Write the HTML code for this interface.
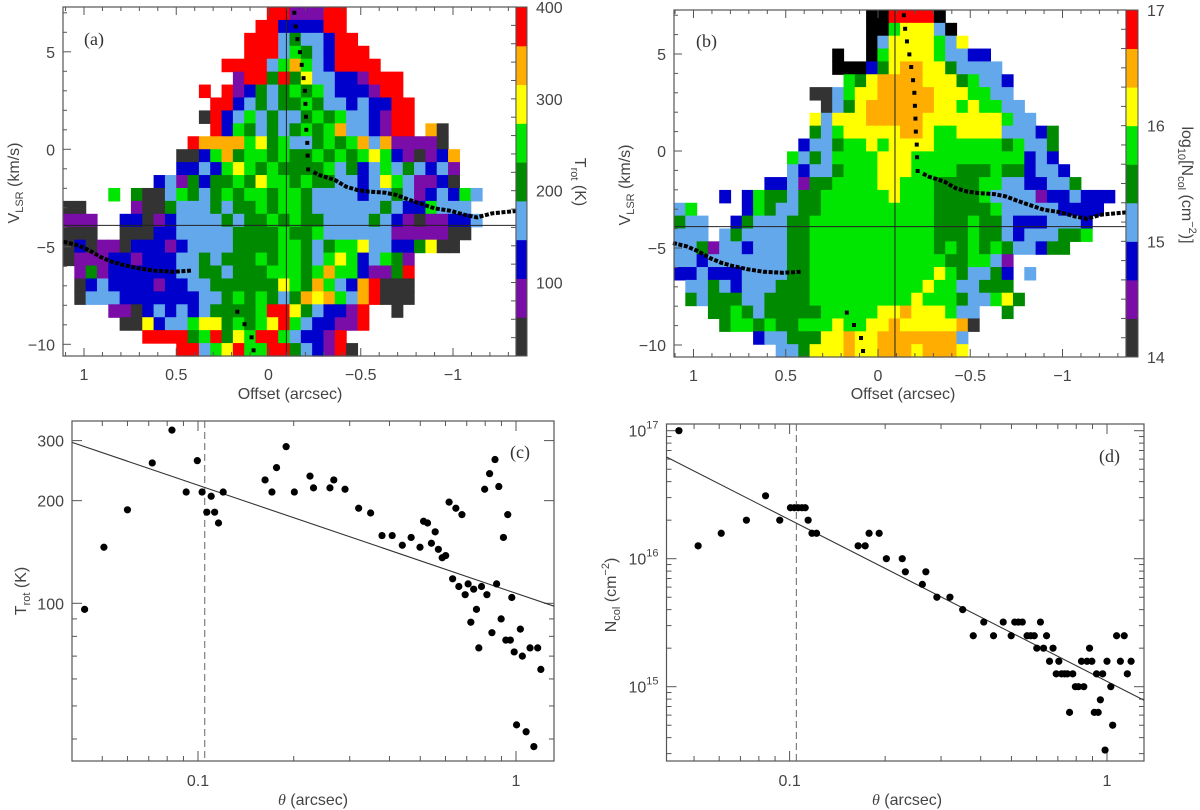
<!DOCTYPE html>
<html><head><meta charset="utf-8"><style>
html,body{margin:0;padding:0;background:#fff;}
svg{display:block;font-family:"Liberation Sans",sans-serif;}
</style></head><body>
<svg id="fig" width="1200" height="810" viewBox="0 0 1200 810" xmlns="http://www.w3.org/2000/svg">
<rect x="0" y="0" width="1200" height="810" fill="#fff"/>
</svg>
<script>
// ---------- DATA ----------
const heatA = [
"..................RRPPPRR",
".................RRBBBBRR",
"................RRRLDLLBRR",
"................RRRLGDLBRRR",
"..............RRRRLGOGLBRRRR",
"...............PRRDRDYLLBBPRRR",
"............R.RPBDLDGDGLBBBPRR",
".............RRBLDLDDGDLLBLBBRR",
"............KRBLGLDLLDGDGLLBPRR",
".............RBGDLDLDGDGOLLBPRR.OK",
"...........ROOOOGYDGLLDGDGOLOPPPPK",
"..........KKBGODGGDGDDGDGDGYGBPKPBO",
"..........BBLBGYGDGDDDDGLDBLGLDLBLP",
"........BLPDBDDGDYGGDGDDLLBLYGLPPBK",
"....G.DKKLGDLDGDGGDGGDLLLLBLLDLPBLBGL",
"KK....PKKDLLLDLDDGDGGDLLLLLLDLBBGLLL",
"PPP..BBKPBLLLLDLDDGDGDDLLLLDLBPKPPBBL",
"KKK..KKKBBLLLLLDDDDGDDGLLLLLLPPPPPKK",
"KBKPPKBBBPBLLLLDDDDGGDLDGGYLLBBDYKK",
"KPPPBBPBBBLLDLDDDGDGGDLGYGBLGDP",
".PDPBBBBBBLLDDLDDDGGGDGOGGBPPDR",
".KBLBBBBPBBLLDDDDDDYGDOGLBORKKK",
".KLLLBBBBBBBLLDGDGDLDOYOGLORKKK",
"....PPKBLBLBLDDDDGRRYDLBBPR..K",
".....KKYBLLGYYDGDGYRGLBBPPR",
".......RRRRDGRDYGRRGLBBPR",
"..........RRLGYRGGRRDLBPRK"
];
const heatB = [
".................KKRRRRK",
".................KKGYYYLK",
".................KLYYYYGLY",
"..............K..KGYYYYGLLBB",
"..............KKKBDYOOYYDLLLL",
"...............GDYOOOOYYYDGLLB",
"............KKLGYYOOOOOYYYGGLL",
".............KLDYOOOOOOYYGYGGLL",
"............YLYYYOOOOOYYYYYYYGLL",
"............DLGYYYYYOOYGGYYYYLLLBD",
"...........BLLDGGYGYYYYGGGGGGDGLLD",
"..........GLDLGGGGYYYGGGGGGGGGGBLB",
"..........LBLLDGGGYYYGGGGDDDGDDBLLB",
"........BBLPDDGGGGYYGGGDDDDGGLLBBLLD",
"....B.BGDDLDDGGGGGGYGGGDDDDGLLLLPBBLBBB",
"LG....BGDLLDDGGGGGGGGGGDDDDDGLLLLLBBBB",
"DLL..BDLLLDDGGGGGGGGGGGDDDGDDLBBBLLLB",
"LLL.LDLLLLDDGGGGGGGGGGGDDDGDDLBLLLDDG",
"LLDPLLBLLLDDGGGGGGGGGGGDGDGDGDLLBDD",
"LLBLLLLLLLDDGGGGGGGGGGGGDDGGLP",
"BBLBBBLLLLDDGGGGGGGGGGGYGDLLDB.L",
".LLDLBLLLDDDGGGGGGGGGGYGGLLDDD",
".DLDDDLLDDDDGGGGGGGGGYGGGDLLGYD",
"...DDGDLDDDDDGGGGGYYOYYYGLL..D",
"....DGGDGDDGGGYGGYYOYYYYYOK",
".......BLLDDDYYOYYOOOOOOOL",
".........LLDYYYOYYOOOYOOOY"
];
const colorCodes = ["K","P","B","L","D","G","Y","O","R"];
const colorHex = ["#333333","#7a0ca8","#0000cc","#64a8ec","#008a00","#00e600","#ffff00","#ffad00","#ff0000"];
const cbarTickA = [100,200,300,400];
const cbarTickB = [14,15,16,17];
// ridge markers (offset arcsec, V km/s)
const ridgeTopOff = [-0.14,-0.147,-0.157,-0.17,-0.18,-0.19,-0.197,-0.2,-0.203,-0.205,-0.21,-0.212,-0.215];
const ridgeTopV   = [7.0,6.3,5.65,4.98,4.33,3.65,3.0,2.33,1.67,1.0,0.33,-0.32,-1.03];
const ridgeRightOff = [-0.244,-0.275,-0.358,-0.421,-0.483,-0.546,-0.629,-0.692,-0.754,-0.817,-0.9,-0.984,-1.067,-1.13,-1.213,-1.349];
const ridgeRightV   = [-1.17,-1.32,-1.57,-1.92,-2.09,-2.17,-2.22,-2.34,-2.56,-2.77,-3.03,-3.15,-3.37,-3.49,-3.28,-3.16];
const ridgeLeftOff = [1.111,1.038,0.976,0.913,0.851,0.788,0.705,0.622,0.517,0.413];
const ridgeLeftV   = [-4.74,-4.91,-5.16,-5.51,-5.76,-5.93,-6.10,-6.22,-6.28,-6.22];
const ridgeBotOff = [0.169,0.13,0.092,0.081];
const ridgeBotV   = [-8.33,-8.97,-9.64,-10.31];
// panel c
const thetaC = [0.044,0.0506,0.060,0.0718,0.0828,0.0918,0.0995,0.103,0.1066,0.110,0.1128,0.116,0.12,0.1625,0.1708,0.1766,0.1893,0.2009,0.225,0.2308,0.26,0.2673,0.29,0.32,0.349,0.379,0.408,0.439,0.468,0.499,0.512,0.527,0.542,0.557,0.570,0.586,0.601,0.616,0.632,0.647,0.661,0.676,0.692,0.707,0.721,0.736,0.751,0.764,0.779,0.797,0.810,0.826,0.840,0.859,0.869,0.883,0.898,0.913,0.929,0.942,0.960,0.970,0.987,1.004,1.032,1.047,1.076,1.107,1.138,1.170,1.197];
const trotC = [96,146,188,258,322,212,262,212,185,206,185,172,212,230,212,250,288,212,236,218,218,230,216,190,184,158,158,148,156,146,174,172,150,162,144,136,138,198,118,190,112,182,106,114,88,110,96,74,112,216,106,240,82,264,114,220,90,156,78,182,78,104,72,44,84,70,42,74,38,74,64];
const fitC = [107,-0.317];
// panel d
const thetaD = [0.0448,0.0515,0.0609,0.0731,0.084,0.0931,0.1006,0.1035,0.1064,0.1094,0.112,0.1144,0.1176,0.1216,0.1644,0.173,0.178,0.1915,0.2018,0.2264,0.2316,0.262,0.2687,0.2911,0.32,0.351,0.379,0.409,0.439,0.471,0.499,0.512,0.526,0.541,0.56,0.575,0.59,0.601,0.617,0.631,0.645,0.659,0.676,0.692,0.705,0.719,0.735,0.75,0.762,0.78,0.795,0.813,0.831,0.845,0.865,0.881,0.896,0.912,0.927,0.938,0.953,0.969,0.986,1.0,1.028,1.042,1.072,1.102,1.133,1.159,1.191];
const ncolD = [1e17,1.26e16,1.58e16,2e16,3.1e16,2e16,2.5e16,2.5e16,2.5e16,2.5e16,2.5e16,2e16,1.58e16,1.58e16,1.26e16,1.26e16,1.58e16,1.58e16,1e16,1e16,7.9e15,6.3e15,7.9e15,5e15,5e15,4e15,2.5e15,3.2e15,2.5e15,3.2e15,2.5e15,3.2e15,3.2e15,3.2e15,2.5e15,2.5e15,2.5e15,2e15,3.2e15,2e15,2.5e15,1.58e15,2e15,1.26e15,1.58e15,1.26e15,1.26e15,1.26e15,6.3e14,1.26e15,1e15,1e15,1.58e15,1e15,1.58e15,2e15,1.58e15,6.3e14,1.26e15,6.3e14,7.9e14,1.26e15,3.2e14,1.58e15,1e15,5e14,2.5e15,1.58e15,2.5e15,1.26e15,1.58e15];
const fitD = [1.1e15,-1.263];
const beamTheta = [0.105];

// ---------- HELPERS ----------
const NS = 'http://www.w3.org/2000/svg';
const svg = document.getElementById('fig');
function mk(tag, attrs, parent){
  const e = document.createElementNS(NS, tag);
  for (const k in attrs) e.setAttribute(k, attrs[k]);
  (parent || svg).appendChild(e);
  return e;
}
function grp(name){
  const g = mk('g', {});
  
  
  return g;
}
const AX = '#555', TXT = '#444';

// ---------- HEATMAP PANELS ----------
function heatPanel(cfg){
  const g = grp(cfg.name);
  const sx = v => cfg.px0 - cfg.kx * v;
  const sy = v => cfg.py0 - cfg.ky * v;
  const cw = (cfg.x1 - cfg.x0) / 40, rh = (cfg.y1 - cfg.y0) / cfg.grid.length;
  cfg.grid.forEach((row, r) => {
    for (let c = 0; c < row.length; c++) {
      const idx = colorCodes.indexOf(row[c]);
      if (idx < 0) continue;
      const cell = mk('rect', {x: cfg.x0 + c*cw, y: cfg.y0 + r*rh, width: cw + 0.6, height: rh + 0.6, fill: (cfg.blackTop && row[c]==='K' && r < 6) ? '#000' : colorHex[idx]}, g);
      
      
    }
  });
  // reference lines
  const hl = mk('line', {x1: cfg.x0, x2: cfg.x1, y1: sy(cfg.vsys), y2: sy(cfg.vsys), stroke: '#222', 'stroke-width': 1}, g);
  
  
  const vl = mk('line', {x1: sx(cfg.off0), x2: sx(cfg.off0), y1: cfg.y0, y2: cfg.y1, stroke: '#222', 'stroke-width': 1}, g);
  
  
  // ridge markers
  [[ridgeRightOff, ridgeRightV, 'ridge-right'], [ridgeLeftOff, ridgeLeftV, 'ridge-left']].forEach(([xs, ys, nm]) => {
    const pts = xs.map((v, i) => sx(v).toFixed(1) + ',' + sy(ys[i]).toFixed(1)).join(' ');
    const pl = mk('polyline', {points: pts, fill: 'none', stroke: '#000', 'stroke-width': 4, 'stroke-dasharray': '4 1.6'}, g);
    
    
  });
  [[ridgeTopOff, ridgeTopV], [ridgeBotOff, ridgeBotV]].forEach(([xs, ys]) => {
    xs.forEach((v, i) => {
      const m = mk('rect', {x: sx(v) - 2, y: sy(ys[i]) - 2, width: 4, height: 4, fill: '#000'}, g);
      
      
    });
  });
  // frame
  const fr = mk('rect', {x: cfg.x0, y: cfg.y0, width: cfg.x1 - cfg.x0, height: cfg.y1 - cfg.y0, fill: 'none', stroke: AX, 'stroke-width': 1.2}, g);
  
  
  // x ticks
  for (let k = -14; k <= 12; k++) {
    const v = k / 10, x = sx(v);
    if (x < cfg.x0 || x > cfg.x1) continue;
    const L = (k % 5 === 0) ? 8 : 4;
    const t1 = mk('line', {x1: x, x2: x, y1: cfg.y1, y2: cfg.y1 - L, stroke: AX}, g);
    
    
    const t2 = mk('line', {x1: x, x2: x, y1: cfg.y0, y2: cfg.y0 + L, stroke: AX}, g);
    
    
    if (k % 5 === 0) {
      const lab = mk('text', {x: x, y: cfg.y1 + 24, 'text-anchor': 'middle', 'font-size': 16, fill: TXT}, g);
      lab.textContent = (v < 0 ? '\u2212' : '') + String(Math.abs(v));
      
      
    }
  }
  // y ticks
  for (let v = -11; v <= 8; v++) {
    const y = sy(v);
    if (y < cfg.y0 || y > cfg.y1) continue;
    const L = (v % 5 === 0) ? 8 : 4;
    const t = mk('line', {x1: cfg.x0, x2: cfg.x0 + L, y1: y, y2: y, stroke: AX}, g);
    
    
    if (v % 5 === 0) {
      const lab = mk('text', {x: cfg.x0 - 8, y: y + 6, 'text-anchor': 'end', 'font-size': 16, fill: TXT}, g);
      lab.textContent = (v < 0 ? '\u2212' : '') + String(Math.abs(v));
      
      
    }
  }
  // colorbar
  const cb = cfg.cbar;
  const n = colorHex.length, bh = (cfg.y1 - cfg.y0) / n;
  for (let i = 0; i < n; i++) {
    const b = mk('rect', {x: cb.x, y: cfg.y1 - (i+1)*bh, width: cb.w, height: bh + 0.5, fill: colorHex[i]}, g);
    
    
  }
  const cf = mk('rect', {x: cb.x, y: cfg.y0, width: cb.w, height: cfg.y1 - cfg.y0, fill: 'none', stroke: AX}, g);
  
  
  const cy = v => cfg.y0 + (cb.max - v) / (cb.max - cb.min) * (cfg.y1 - cfg.y0);
  for (let v = cb.min; v <= cb.max + 1e-9; v += cb.minor) {
    const t = mk('line', {x1: cb.x - 5, x2: cb.x, y1: cy(v), y2: cy(v), stroke: AX}, g);
    
    
  }
  cb.ticks.forEach(v => {
    const lab = mk('text', {x: cb.x + cb.w + 9, y: cy(v) + 6, 'font-size': 16, fill: TXT}, g);
    lab.textContent = String(v);
    
    
  });
  return {g, sx, sy};
}

const pa = heatPanel({name: 'panel-a-trot-pv', grid: heatA, x0: 63, x1: 516, y0: 7, y1: 356, px0: 268.5, kx: 184.5, py0: 149.3, ky: 19.5, vsys: -3.9, off0: -0.097,
  cbar: {x: 516, w: 11, min: 20, max: 400, minor: 20, ticks: cbarTickA}});
const pb = heatPanel({name: 'panel-b-ncol-pv', grid: heatB, x0: 674, x1: 1126, y0: 10, y1: 357, px0: 878, kx: 184.5, py0: 151, ky: 19.4, vsys: -3.9, off0: -0.092, blackTop: true,
  cbar: {x: 1126, w: 12, min: 14, max: 17, minor: 1/6, ticks: cbarTickB}});

// ---------- LOG PANELS ----------
function logPanel(cfg){
  const g = grp(cfg.name);
  const sx = t => cfg.xa + cfg.xk * Math.log10(t);
  const sy = v => cfg.ya - cfg.yk * (Math.log10(v) - cfg.yref);
  const fr = mk('rect', {x: cfg.x0, y: cfg.y0, width: cfg.x1 - cfg.x0, height: cfg.y1 - cfg.y0, fill: 'none', stroke: AX, 'stroke-width': 1.2}, g);
  
  
  // x ticks
  for (let d = -2; d <= 0; d++) for (let m = 1; m <= 9; m++) {
    const x = sx(m * Math.pow(10, d));
    if (x < cfg.x0 || x > cfg.x1) continue;
    const L = m === 1 ? 10 : 5;
    const a = mk('line', {x1: x, x2: x, y1: cfg.y1, y2: cfg.y1 - L, stroke: AX}, g);
    
    
    const b = mk('line', {x1: x, x2: x, y1: cfg.y0, y2: cfg.y0 + L, stroke: AX}, g);
    
    
    if (m === 1) {
      const lab = mk('text', {x: x, y: cfg.y1 + 25, 'text-anchor': 'middle', 'font-size': 16, fill: TXT}, g);
      lab.textContent = d === -1 ? '0.1' : '1';
      
      
    }
  }
  // y ticks
  for (let d = cfg.dmin; d <= cfg.dmax; d++) for (let m = 1; m <= 9; m++) {
    const v = m * Math.pow(10, d), y = sy(v);
    if (y < cfg.y0 - 0.5 || y > cfg.y1) continue;
    const major = cfg.yLabels(v) !== null;
    const L = major ? 10 : 5;
    const a = mk('line', {x1: cfg.x0, x2: cfg.x0 + L, y1: y, y2: y, stroke: AX}, g);
    
    
    const b = mk('line', {x1: cfg.x1, x2: cfg.x1 - L, y1: y, y2: y, stroke: AX}, g);
    
    
    const labTxt = cfg.yLabels(v);
    if (labTxt) {
      const lab = mk('text', {x: cfg.x0 - 8, y: y + 6, 'text-anchor': 'end', 'font-size': 16, fill: TXT}, g);
      if (Array.isArray(labTxt)) {
        lab.textContent = labTxt[0];
        const sup = mk('tspan', {dy: -8, 'font-size': 11}, lab);
        sup.textContent = labTxt[1];
        
        
      } else lab.textContent = labTxt;
      
      
    }
  }
  // beam line
  const bx = sx(beamTheta[0]);
  const bl = mk('line', {x1: bx, x2: bx, y1: cfg.y0, y2: cfg.y1, stroke: '#666', 'stroke-dasharray': '7 4'}, g);
  
  
  // fit
  const t0 = Math.pow(10, (cfg.x0 - cfg.xa) / cfg.xk), t1 = Math.pow(10, (cfg.x1 - cfg.xa) / cfg.xk);
  const f = t => cfg.fit[0] * Math.pow(t, cfg.fit[1]);
  const fl = mk('line', {x1: sx(t0), y1: sy(f(t0)), x2: sx(t1), y2: sy(f(t1)), stroke: '#333', 'stroke-width': 1.1}, g);
  
  
  // points
  cfg.xs.forEach((t, i) => {
    const c = mk('circle', {cx: sx(t), cy: sy(cfg.ys[i]), r: 3.6, fill: '#000'}, g);
    
    
  });
  return g;
}
logPanel({name: 'panel-c-trot-vs-theta', x0: 72, x1: 554, y0: 421, y1: 761, xa: 516, xk: 318, ya: 603.3, yk: 341, yref: 2, dmin: 1, dmax: 2,
  yLabels: v => ([100,200,300].includes(Math.round(v)) ? String(Math.round(v)) : null), fit: fitC, xs: thetaC, ys: trotC});
logPanel({name: 'panel-d-ncol-vs-theta', x0: 666.5, x1: 1144, y0: 424, y1: 761, xa: 1107, xk: 317.4, ya: 686.7, yk: 128, yref: 15, dmin: 14, dmax: 17,
  yLabels: v => { const l = Math.log10(v); return Math.abs(l - Math.round(l)) < 1e-6 && l >= 15 ? ['10', String(Math.round(l))] : null; }, fit: fitD, xs: thetaD, ys: ncolD});
</script>
<!-- static labels -->
<svg width="1200" height="810" viewBox="0 0 1200 810" style="position:absolute;left:0;top:0;font-family:'Liberation Sans',sans-serif">
<text x="84" y="45" font-family="Liberation Serif" font-size="18" fill="#333">(a)</text>
<text x="696" y="47" font-family="Liberation Serif" font-size="18" fill="#333">(b)</text>
<text x="510" y="458" font-family="Liberation Serif" font-size="18" fill="#333">(c)</text>
<text x="1099" y="462" font-family="Liberation Serif" font-size="18" fill="#333">(d)</text>
<text x="290" y="399" text-anchor="middle" font-size="16" fill="#444">Offset  (arcsec)</text>
<text x="903" y="399" text-anchor="middle" font-size="16" fill="#444">Offset  (arcsec)</text>
<text transform="translate(19,183) rotate(-90)" text-anchor="middle" font-size="16" fill="#444">V<tspan font-size="11" dy="4">LSR</tspan><tspan dy="-4">  (km/s)</tspan></text>
<text transform="translate(630,185) rotate(-90)" text-anchor="middle" font-size="16" fill="#444">V<tspan font-size="11" dy="4">LSR</tspan><tspan dy="-4">  (km/s)</tspan></text>
<text transform="translate(575,182) rotate(90)" text-anchor="middle" font-size="16" fill="#444">T<tspan font-size="11" dy="4">rot</tspan><tspan dy="-4">  (K)</tspan></text>
<text transform="translate(1182,185) rotate(90)" text-anchor="middle" font-size="16" fill="#444">log<tspan font-size="11" dy="4">10</tspan><tspan dy="-4">[N</tspan><tspan font-size="11" dy="4">col</tspan><tspan dy="-4">  (cm</tspan><tspan font-size="11" dy="-7">−2</tspan><tspan dy="7">)]</tspan></text>
<text transform="translate(26,591) rotate(-90)" text-anchor="middle" font-size="16" fill="#444">T<tspan font-size="11" dy="4">rot</tspan><tspan dy="-4">  (K)</tspan></text>
<text transform="translate(616,595) rotate(-90)" text-anchor="middle" font-size="16" fill="#444">N<tspan font-size="11" dy="4">col</tspan><tspan dy="-4">  (cm</tspan><tspan font-size="11" dy="-7">−2</tspan><tspan dy="7">)</tspan></text>
<text x="313" y="805" text-anchor="middle" font-size="16" fill="#444"><tspan font-family="Liberation Serif" font-style="italic">θ</tspan>  (arcsec)</text>
<text x="907" y="805" text-anchor="middle" font-size="16" fill="#444"><tspan font-family="Liberation Serif" font-style="italic">θ</tspan>  (arcsec)</text>
</svg>
</body></html>
